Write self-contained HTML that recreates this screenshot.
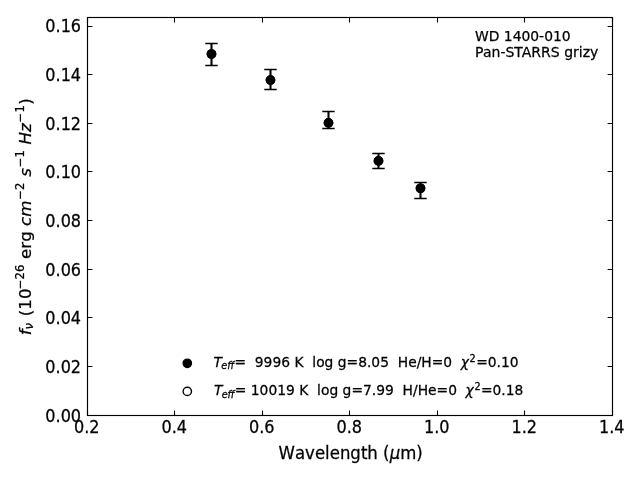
<!DOCTYPE html>
<html lang="en"><head><meta charset="utf-8"><title>WD 1400-010</title>
<style>html,body{margin:0;padding:0;background:#fff}svg{display:block}text{font-family:'DejaVu Sans','Liberation Sans',sans-serif;fill:#000;stroke:#000;stroke-width:0.25px}.t12{font-size:16.667px}.t10{font-size:13.889px}.s12{font-size:11.667px}.s10{font-size:9.722px}.i{font-style:italic}.nk{font-kerning:none}</style></head><body>
<svg width="640" height="480" viewBox="0 0 640 480">
<rect x="0" y="0" width="640" height="480" fill="#fff"/>
<g stroke="#000" stroke-width="1.1" fill="none">
<path d="M87.5 415.5V410.6M87.5 17.5V22.4"/>
<path d="M174.5 415.5V410.6M174.5 17.5V22.4"/>
<path d="M262.5 415.5V410.6M262.5 17.5V22.4"/>
<path d="M349.5 415.5V410.6M349.5 17.5V22.4"/>
<path d="M437.5 415.5V410.6M437.5 17.5V22.4"/>
<path d="M524.5 415.5V410.6M524.5 17.5V22.4"/>
<path d="M612.5 415.5V410.6M612.5 17.5V22.4"/>
<path d="M87.5 415.5H92.4M612.5 415.5H607.6"/>
<path d="M87.5 366.5H92.4M612.5 366.5H607.6"/>
<path d="M87.5 317.5H92.4M612.5 317.5H607.6"/>
<path d="M87.5 269.5H92.4M612.5 269.5H607.6"/>
<path d="M87.5 220.5H92.4M612.5 220.5H607.6"/>
<path d="M87.5 171.5H92.4M612.5 171.5H607.6"/>
<path d="M87.5 123.5H92.4M612.5 123.5H607.6"/>
<path d="M87.5 74.5H92.4M612.5 74.5H607.6"/>
<path d="M87.5 26.5H92.4M612.5 26.5H607.6"/>
</g>
<rect x="87.5" y="17.5" width="525.0" height="398.0" fill="none" stroke="#000" stroke-width="1.15"/>
<text class="t12" transform="translate(86.80 433.00) scale(0.965 1.040)" text-anchor="middle">0.2</text>
<text class="t12" transform="translate(174.30 433.00) scale(0.965 1.040)" text-anchor="middle">0.4</text>
<text class="t12" transform="translate(261.80 433.00) scale(0.965 1.040)" text-anchor="middle">0.6</text>
<text class="t12" transform="translate(349.30 433.00) scale(0.965 1.040)" text-anchor="middle">0.8</text>
<text class="t12" transform="translate(436.80 433.00) scale(0.965 1.040)" text-anchor="middle">1.0</text>
<text class="t12" transform="translate(524.30 433.00) scale(0.965 1.040)" text-anchor="middle">1.2</text>
<text class="t12" transform="translate(611.80 433.00) scale(0.965 1.040)" text-anchor="middle">1.4</text>
<text class="t12" transform="translate(81.10 421.60) scale(0.965 1.040)" text-anchor="end">0.00</text>
<text class="t12" transform="translate(81.10 372.95) scale(0.965 1.040)" text-anchor="end">0.02</text>
<text class="t12" transform="translate(81.10 324.30) scale(0.965 1.040)" text-anchor="end">0.04</text>
<text class="t12" transform="translate(81.10 275.65) scale(0.965 1.040)" text-anchor="end">0.06</text>
<text class="t12" transform="translate(81.10 227.00) scale(0.965 1.040)" text-anchor="end">0.08</text>
<text class="t12" transform="translate(81.10 178.35) scale(0.965 1.040)" text-anchor="end">0.10</text>
<text class="t12" transform="translate(81.10 129.70) scale(0.965 1.040)" text-anchor="end">0.12</text>
<text class="t12" transform="translate(81.10 81.05) scale(0.965 1.040)" text-anchor="end">0.14</text>
<text class="t12" transform="translate(81.10 32.40) scale(0.965 1.040)" text-anchor="end">0.16</text>
<g stroke="#000" fill="none">
<path d="M211.5 43.5V65.5" stroke-width="2.08"/>
<path d="M205.3 43.5H217.7M205.3 65.5H217.7" stroke-width="1.39"/>
<path d="M270.5 69.5V89.5" stroke-width="2.08"/>
<path d="M264.3 69.5H276.7M264.3 89.5H276.7" stroke-width="1.39"/>
<path d="M328.5 111.5V128.5" stroke-width="2.08"/>
<path d="M322.3 111.5H334.7M322.3 128.5H334.7" stroke-width="1.39"/>
<path d="M378.5 153.5V168.5" stroke-width="2.08"/>
<path d="M372.3 153.5H384.7M372.3 168.5H384.7" stroke-width="1.39"/>
<path d="M420.5 182.5V198.5" stroke-width="2.08"/>
<path d="M414.3 182.5H426.7M414.3 198.5H426.7" stroke-width="1.39"/>
</g>
<circle cx="211.50" cy="54.00" r="4.17" fill="#fff" stroke="#000" stroke-width="1.39"/>
<circle cx="211.50" cy="54.00" r="4.17" fill="#000" stroke="#000" stroke-width="1.39"/>
<circle cx="270.50" cy="80.10" r="4.17" fill="#fff" stroke="#000" stroke-width="1.39"/>
<circle cx="270.50" cy="80.10" r="4.17" fill="#000" stroke="#000" stroke-width="1.39"/>
<circle cx="328.50" cy="122.90" r="4.17" fill="#fff" stroke="#000" stroke-width="1.39"/>
<circle cx="328.50" cy="122.90" r="4.17" fill="#000" stroke="#000" stroke-width="1.39"/>
<circle cx="378.50" cy="160.90" r="4.17" fill="#fff" stroke="#000" stroke-width="1.39"/>
<circle cx="378.50" cy="160.90" r="4.17" fill="#000" stroke="#000" stroke-width="1.39"/>
<circle cx="420.50" cy="188.30" r="4.17" fill="#fff" stroke="#000" stroke-width="1.39"/>
<circle cx="420.50" cy="188.30" r="4.17" fill="#000" stroke="#000" stroke-width="1.39"/>
<circle cx="187.3" cy="363.3" r="4.17" fill="#000" stroke="#000" stroke-width="1.39"/>
<circle cx="187.3" cy="391.4" r="4.17" fill="#fff" stroke="#000" stroke-width="1.39"/>
<text class="t10" x="475.0" y="41.4">WD 1400-010</text>
<text class="t10" transform="translate(475.1 57.2) scale(1.01 1)">Pan-STARRS grizy</text>
<text class="t12 nk" transform="translate(278.60 459.00) scale(0.994 1.045)"><tspan x="0" y="0">Wavelength (</tspan><tspan class="i" x="111.74" y="0">μ</tspan><tspan x="122.34" y="0">m)</tspan></text>
<g transform="translate(30.50 335.30) rotate(-90)"><text class="t12 nk" y="0"><tspan class="i" x="0" y="0">f</tspan><tspan class="i s12" x="5.87" y="2.74">ν</tspan><tspan x="19.1" y="0">(10</tspan><tspan class="s12" x="46.01" y="-6.38">−26</tspan><tspan x="76.38" y="0">erg</tspan><tspan class="i" x="109.37" y="0">cm</tspan><tspan class="s12" x="135.54" y="-6.38">−2</tspan><tspan class="i" x="158.49" y="0">s</tspan><tspan class="s12" x="167.95" y="-6.38">−1</tspan><tspan class="i" x="190.90" y="0">Hz</tspan><tspan class="s12" x="212.93" y="-6.38">−1</tspan><tspan x="230.58" y="0">)</tspan></text></g>
<g transform="translate(212.80 367.20) scale(0.9965 1)"><text class="t10 nk" y="0"><tspan class="i" x="0.7" y="0">T</tspan><tspan class="i s10" x="8.48" y="2.28">eff</tspan><tspan x="21.69" y="0">=</tspan><tspan x="42.16" y="0">9996 K</tspan><tspan x="99.86" y="0">log g=8.05</tspan><tspan class="i" x="248.89" y="0">χ</tspan><tspan class="s10" x="257.73" y="-5.31">2</tspan><tspan x="264.30" y="0">=0.10</tspan><tspan x="185.65" y="0">He/H=0</tspan></text></g>
<g transform="translate(213.20 395.40) scale(0.9965 1)"><text class="t10 nk" y="0"><tspan class="i" x="0.7" y="0">T</tspan><tspan class="i s10" x="8.48" y="2.28">eff</tspan><tspan x="21.69" y="0">=</tspan><tspan x="37.74" y="0">10019 K</tspan><tspan x="104.28" y="0">log g=7.99</tspan><tspan class="i" x="253.31" y="0">χ</tspan><tspan class="s10" x="262.15" y="-5.31">2</tspan><tspan x="268.72" y="0">=0.18</tspan><tspan x="190.07" y="0">H/He=0</tspan></text></g>
</svg></body></html>
